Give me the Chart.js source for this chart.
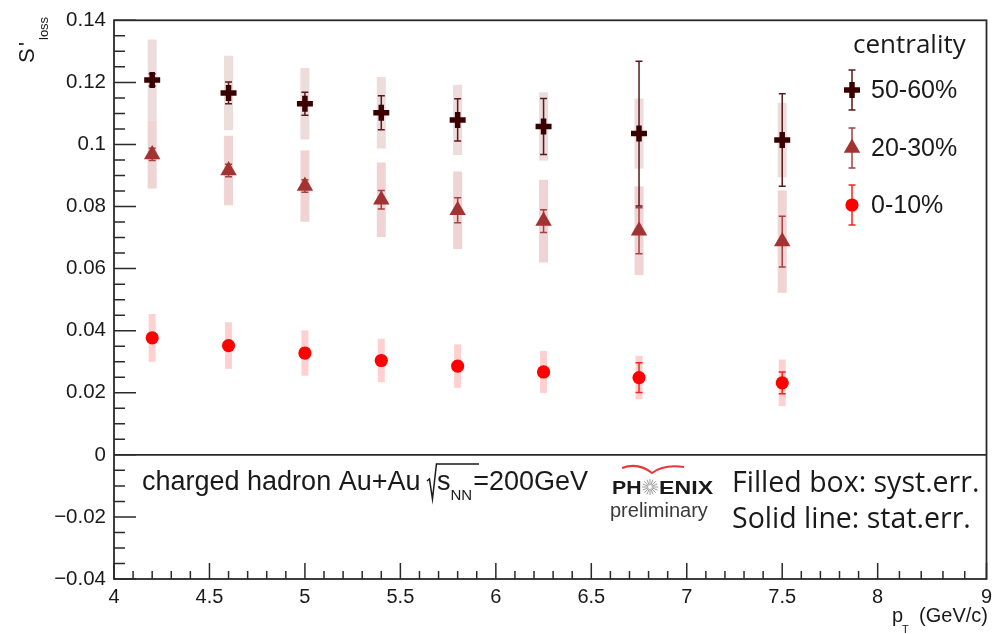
<!DOCTYPE html>
<html>
<head>
<meta charset="utf-8">
<title>S'loss vs pT</title>
<script src="https://cdn.jsdelivr.net/npm/chart.js"></script>
<style>
  body { margin: 0; background: #fff; }
  #chartContainer { width: 1000px; height: 634px; }
</style>
</head>
<body>
<div id="chartContainer"><canvas id="chart" width="1000" height="634"></canvas></div>
<script>
// p_T bins (GeV/c)
const ptValues = [4.2, 4.6, 5.0, 5.4, 5.8, 6.25, 6.75, 7.5];

// 50-60% centrality
const sloss5060 = [0.1208, 0.1166, 0.1131, 0.1102, 0.1079, 0.1058, 0.1035, 0.1014];
const stat5060  = [0.002, 0.0035, 0.0037, 0.0055, 0.0068, 0.009, 0.0233, 0.0149];
const syst5060  = [0.013, 0.012, 0.0115, 0.0115, 0.0113, 0.011, 0.0113, 0.012];

// 20-30% centrality
const sloss2030 = [0.0968, 0.0916, 0.0866, 0.0822, 0.0788, 0.0753, 0.0722, 0.0687];
const stat2030  = [0.002, 0.002, 0.002, 0.003, 0.004, 0.0037, 0.0074, 0.0082];
const syst2030  = [0.011, 0.0112, 0.0115, 0.012, 0.0125, 0.0133, 0.0143, 0.0165];

// 0-10% centrality
const sloss010 = [0.0377, 0.0352, 0.0328, 0.0304, 0.0286, 0.0267, 0.0249, 0.0232];
const stat010  = [0.0015, 0.0015, 0.0015, 0.0015, 0.0015, 0.0015, 0.0048, 0.0035];
const syst010  = [0.0077, 0.0075, 0.0073, 0.007, 0.007, 0.0068, 0.007, 0.0075];

const legendLabels = ['50-60%', '20-30%', '0-10%'];

// axis ticks (the last x segment of the original figure is squeezed, "9" sits at the frame edge)
const xMax = 8.57;
const xTickValues = [4, 4.5, 5, 5.5, 6, 6.5, 7, 7.5, 8, xMax];
const xTickLabels = ['4', '4.5', '5', '5.5', '6', '6.5', '7', '7.5', '8', '9'];
const yTickValues = [-0.04, -0.02, 0, 0.02, 0.04, 0.06, 0.08, 0.1, 0.12, 0.14];
const yTickLabels = ['\u22120.04', '\u22120.02', '0', '0.02', '0.04', '0.06', '0.08', '0.1', '0.12', '0.14'];

const fontSans = '"Liberation Sans", Arial, Helvetica, sans-serif';
const fontRound = '"Open Sans", "Liberation Sans", sans-serif';
const axisColor = '#2a2a2a';

function toPoints(values){
    return ptValues.map(function (x, i){ return {x: x, y: values[i]}; });
}

function makeDataset(label, values, stat, syst, style){
    return {
        label: label,
        data: toPoints(values),
        statErr: stat,
        systErr: syst,
        boxColor: style.box,
        boxWidth: style.boxWidth,
        barColor: style.bar,
        showLine: false,
        pointStyle: style.shape,
        pointRadius: style.radius,
        pointHoverRadius: style.radius,
        pointBorderWidth: style.border,
        pointBackgroundColor: style.color,
        pointBorderColor: style.color
    };
}

const datasets = [
    makeDataset(legendLabels[0], sloss5060, stat5060, syst5060,
        {shape: 'cross', radius: 8, border: 5.5, color: '#3a0000', bar: '#5a1a1a', box: '#eddcdc', boxWidth: 9}),
    makeDataset(legendLabels[1], sloss2030, stat2030, syst2030,
        {shape: 'triangle', radius: 9.5, border: 0, color: '#a33333', bar: '#a84040', box: '#f0d4d4', boxWidth: 9}),
    makeDataset(legendLabels[2], sloss010, stat010, syst010,
        {shape: 'circle', radius: 6.6, border: 0, color: '#ff0000', bar: '#ff2020', box: '#ffd0d0', boxWidth: 7})
];

//syst. boxes and stat. bars, drawn below the markers
const errorPlugin = {
    id: 'errors',
    beforeDatasetsDraw(chart){
        const ctx = chart.ctx;
        const x = chart.scales.x, y = chart.scales.y;
        ctx.save();
        chart.data.datasets.forEach(function (ds){
            ctx.fillStyle = ds.boxColor;
            ds.data.forEach(function (p, i){
                const px = x.getPixelForValue(p.x);
                const top = y.getPixelForValue(p.y + ds.systErr[i]);
                const bot = y.getPixelForValue(p.y - ds.systErr[i]);
                ctx.fillRect(px - ds.boxWidth / 2, top, ds.boxWidth, bot - top);
            });
        });
        chart.data.datasets.forEach(function (ds){
            ctx.strokeStyle = ds.barColor;
            ctx.lineWidth = 1.5;
            ds.data.forEach(function (p, i){
                const px = x.getPixelForValue(p.x);
                const top = y.getPixelForValue(p.y + ds.statErr[i]);
                const bot = y.getPixelForValue(p.y - ds.statErr[i]);
                ctx.beginPath();
                ctx.moveTo(px, top); ctx.lineTo(px, bot);
                ctx.moveTo(px - 3.5, top); ctx.lineTo(px + 3.5, top);
                ctx.moveTo(px - 3.5, bot); ctx.lineTo(px + 3.5, bot);
                ctx.stroke();
            });
        });
        ctx.restore();
    }
};

//frame, inward ticks, zero line, legend and texts
const decorPlugin = {
    id: 'decor',
    afterDraw(chart){
        const ctx = chart.ctx;
        const a = chart.chartArea;
        const x = chart.scales.x, y = chart.scales.y;
        ctx.save();
        ctx.strokeStyle = axisColor;
        ctx.lineWidth = 1.8;
        ctx.strokeRect(a.left, a.top, a.right - a.left, a.bottom - a.top);

        const y0 = y.getPixelForValue(0);
        ctx.beginPath();
        ctx.moveTo(a.left, y0); ctx.lineTo(a.right, y0);
        ctx.stroke();

        ctx.lineWidth = 1.5;
        ctx.beginPath();
        for (let i = 0; i < yTickValues.length; i++){
            const py = y.getPixelForValue(yTickValues[i]);
            ctx.moveTo(a.left, py); ctx.lineTo(a.left + 22, py);
            if (i < yTickValues.length - 1){
                const step = (yTickValues[i + 1] - yTickValues[i]) / 4;
                for (let k = 1; k < 4; k++){
                    const my = y.getPixelForValue(yTickValues[i] + k * step);
                    ctx.moveTo(a.left, my); ctx.lineTo(a.left + 11, my);
                }
            }
        }
        for (let i = 0; i < xTickValues.length; i++){
            const px = x.getPixelForValue(xTickValues[i]);
            ctx.moveTo(px, a.bottom); ctx.lineTo(px, a.bottom - 16);
            if (i < xTickValues.length - 1){
                const step = (xTickValues[i + 1] - xTickValues[i]) / 5;
                for (let k = 1; k < 5; k++){
                    const mx = x.getPixelForValue(xTickValues[i] + k * step);
                    ctx.moveTo(mx, a.bottom); ctx.lineTo(mx, a.bottom - 8);
                }
            }
        }
        ctx.stroke();

        // axis titles
        ctx.fillStyle = '#1a1a1a';
        ctx.textAlign = 'left';
        ctx.textBaseline = 'alphabetic';
        ctx.save();
        ctx.translate(34, 63);
        ctx.rotate(-Math.PI / 2);
        ctx.font = '22px ' + fontSans;
        ctx.fillText('S', 0, 0);
        ctx.fillText("'", 17, 0);
        ctx.font = '13px ' + fontSans;
        ctx.fillText('loss', 23, 14);
        ctx.restore();

        ctx.textAlign = 'right';
        ctx.font = '20px ' + fontSans;
        ctx.fillText('(GeV/c)', 988, 622);
        ctx.textAlign = 'left';
        ctx.fillText('p', 892, 622);
        ctx.font = '11px ' + fontSans;
        ctx.fillText('T', 902, 633);

        // legend
        ctx.font = '26px ' + fontRound;
        ctx.fillText('centrality', 853, 53);
        const rowY = [90, 148, 205];
        chart.data.datasets.forEach(function (ds, i){
            const lx = 852, ly = rowY[i];
            ctx.strokeStyle = ds.barColor;
            ctx.lineWidth = 1.5;
            ctx.beginPath();
            ctx.moveTo(lx, ly - 20); ctx.lineTo(lx, ly + 20);
            ctx.moveTo(lx - 3.5, ly - 20); ctx.lineTo(lx + 3.5, ly - 20);
            ctx.moveTo(lx - 3.5, ly + 20); ctx.lineTo(lx + 3.5, ly + 20);
            ctx.stroke();
            ctx.fillStyle = ds.pointBackgroundColor;
            ctx.strokeStyle = ds.pointBorderColor;
            ctx.lineWidth = ds.pointBorderWidth;
            Chart.helpers.drawPoint(ctx, {
                pointStyle: ds.pointStyle, radius: ds.pointRadius,
                borderWidth: ds.pointBorderWidth, rotation: 0
            }, lx, ly);
            ctx.fillStyle = '#1a1a1a';
            ctx.font = '25px ' + fontSans;
            ctx.textBaseline = 'middle';
            ctx.fillText(ds.label, 871, ly + 1);
            ctx.textBaseline = 'alphabetic';
        });

        // collision system text
        ctx.fillStyle = '#1a1a1a';
        ctx.font = '27px ' + fontSans;
        let tx = 142;
        const part1 = 'charged hadron Au+Au ';
        ctx.fillText(part1, tx, 490);
        tx += ctx.measureText(part1).width;
        ctx.strokeStyle = '#1a1a1a';
        ctx.lineWidth = 1.5;
        ctx.beginPath();
        ctx.moveTo(tx - 1, 481); ctx.lineTo(tx + 1.5, 479);
        ctx.lineTo(tx + 4.5, 499); ctx.lineTo(tx + 8.5, 464);
        ctx.lineTo(tx + 51, 464);
        ctx.stroke();
        tx += 9;
        ctx.fillText('s', tx, 490);
        tx += ctx.measureText('s').width;
        ctx.font = '15px ' + fontSans;
        ctx.fillText('NN', tx, 500);
        tx += ctx.measureText('NN').width + 1;
        ctx.font = '27px ' + fontSans;
        ctx.fillText('=200GeV', tx, 490);

        // error legend text
        ctx.font = '28.5px ' + fontRound;
        ctx.fillText('Filled box: syst.err.', 732, 492);
        ctx.fillText('Solid line: stat.err.', 732, 528);

        // PHENIX preliminary mark
        ctx.strokeStyle = '#e8383a';
        ctx.lineWidth = 2;
        ctx.beginPath();
        ctx.moveTo(622, 468);
        ctx.quadraticCurveTo(638, 462, 652, 473);
        ctx.quadraticCurveTo(664, 464, 684, 467);
        ctx.stroke();
        ctx.fillStyle = '#1a1a1a';
        ctx.font = 'bold 19px ' + fontSans;
        ctx.save();
        ctx.translate(612, 494);
        ctx.scale(1.12, 1);
        ctx.fillText('PH', 0, 0);
        ctx.restore();
        ctx.save();
        ctx.translate(659, 494);
        ctx.scale(1.22, 1);
        ctx.fillText('ENIX', 0, 0);
        ctx.restore();
        ctx.strokeStyle = '#9a9a9a';
        ctx.lineWidth = 1;
        ctx.beginPath();
        for (let k = 0; k < 16; k++){
            const ang = k * Math.PI / 8;
            ctx.moveTo(650 + Math.cos(ang) * 2, 487 + Math.sin(ang) * 2);
            ctx.lineTo(650 + Math.cos(ang) * 8, 487 + Math.sin(ang) * 8);
        }
        ctx.stroke();
        ctx.fillStyle = '#3a3a3a';
        ctx.font = '20px ' + fontSans;
        ctx.fillText('preliminary', 610, 517);
        ctx.restore();
    }
};

const config = {
    type: 'scatter',
    data: { datasets: datasets },
    options: {
        responsive: false,
        animation: false,
        devicePixelRatio: 1,
        layout: { padding: { top: 15, right: 12, bottom: 0, left: 0 } },
        plugins: {
            legend: { display: false },
            tooltip: { enabled: false },
            title: { display: false }
        },
        scales: {
            x: {
                type: 'linear',
                min: 4,
                max: xMax,
                afterBuildTicks: function (s){ s.ticks = xTickValues.map(function (v){ return {value: v}; }); },
                afterFit: function (s){ s.height = 55; },
                grid: { display: false, drawTicks: false },
                border: { display: false },
                ticks: {
                    autoSkip: false, maxRotation: 0, minRotation: 0, padding: 6,
                    color: '#1a1a1a', font: { family: fontSans, size: 20 },
                    callback: function (v, i){ return xTickLabels[i]; }
                }
            },
            y: {
                type: 'linear',
                min: -0.04,
                max: 0.14,
                afterBuildTicks: function (s){ s.ticks = yTickValues.map(function (v){ return {value: v}; }); },
                afterFit: function (s){ s.width = 114; },
                grid: { display: false, drawTicks: false },
                border: { display: false },
                ticks: {
                    autoSkip: false, padding: 8,
                    color: '#1a1a1a', font: { family: fontSans, size: 20.5 },
                    callback: function (v, i){ return yTickLabels[i]; }
                }
            }
        }
    },
    plugins: [errorPlugin, decorPlugin]
};

new Chart(document.getElementById('chart'), config);
</script>
</body>
</html>
